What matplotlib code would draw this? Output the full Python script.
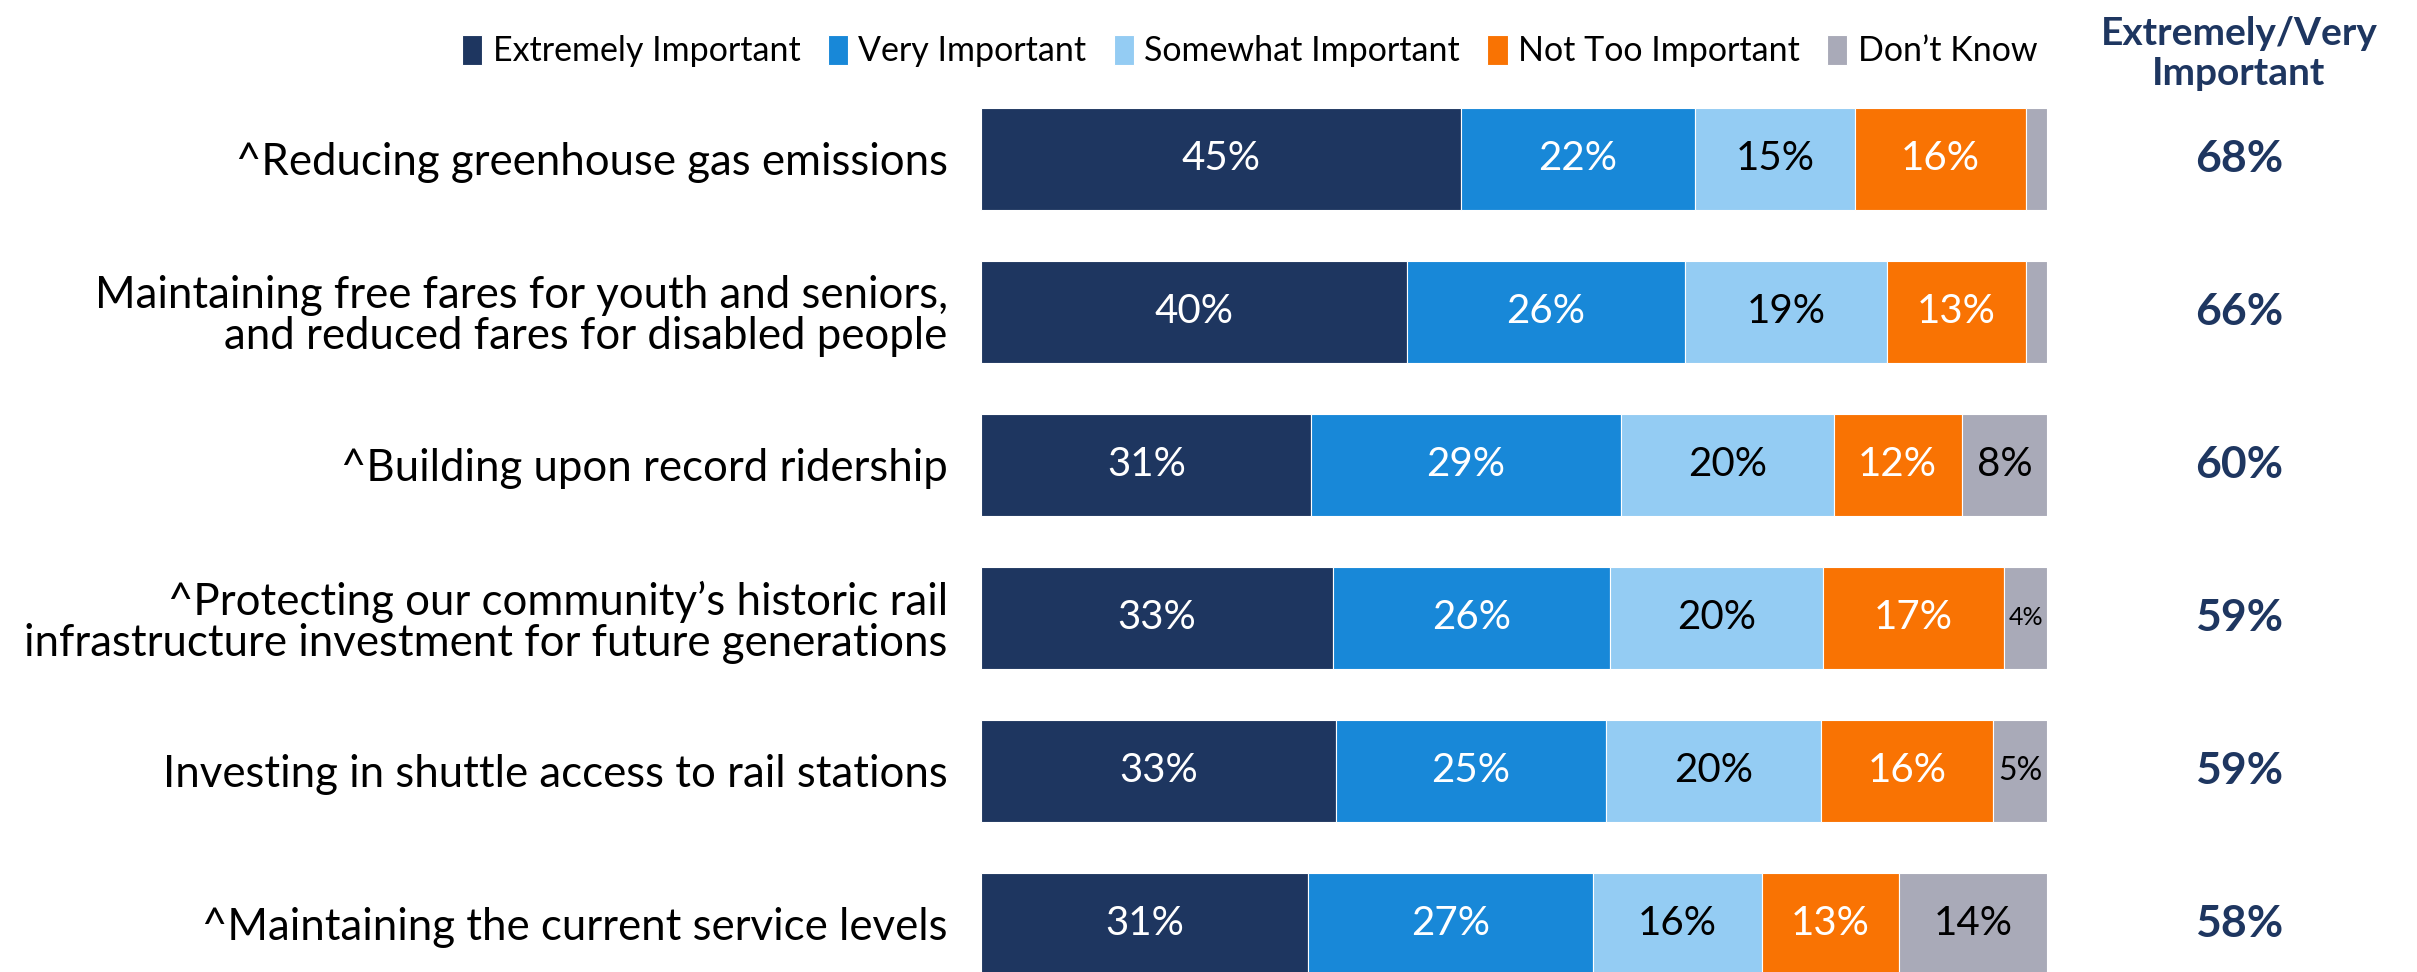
import numpy as np
import matplotlib.pyplot as plt
from matplotlib.transforms import blended_transform_factory

plt.rcParams['font.family'] = ['Lato', 'DejaVu Sans']

categories = [
    '^Reducing greenhouse gas emissions',
    'Maintaining free fares for youth and seniors,\nand reduced fares for disabled people',
    '^Building upon record ridership',
    '^Protecting our community\u2019s historic rail\ninfrastructure investment for future generations',
    'Investing in shuttle access to rail stations',
    '^Maintaining the current service levels',
]
extremely = [45, 40, 31, 33, 33, 31]
very = [22, 26, 29, 26, 25, 27]
somewhat = [15, 19, 20, 20, 20, 16]
not_too = [16, 13, 12, 17, 16, 13]
dont_know = [2, 2, 8, 4, 5, 14]
extremely_very = [68, 66, 60, 59, 59, 58]

series_names = ['Extremely Important', 'Very Important', 'Somewhat Important',
                'Not Too Important', 'Don\u2019t Know']
colors = ['#1e3660', '#1888d8', '#94ccf3', '#f97303', '#a9aab8']
text_colors = ['white', 'white', 'black', 'white', 'black']

values = np.array([extremely, very, somewhat, not_too, dont_know], dtype=float)
shares = values / values.sum(axis=0) * 100  # each bar fills the full width

fig = plt.figure(figsize=(24.17, 9.72), dpi=100)
ax = fig.add_axes([0.4059, 0.0, 0.441, 1.0])

y = np.arange(len(categories))
left = np.zeros(len(categories))
for k in range(len(series_names)):
    ax.barh(y, shares[k], left=left, height=0.667, color=colors[k],
            edgecolor='white', linewidth=0.8, label=series_names[k])
    for i in range(len(categories)):
        v = values[k, i]
        if v >= 3:
            size = 29 if v >= 8 else (23 if v >= 5 else 18)
            ax.text(left[i] + shares[k, i] / 2, y[i], f'{v:.0f}%',
                    ha='center', va='center', color=text_colors[k], fontsize=size)
    left += shares[k]

ax.set_xlim(0, 100)
ax.set_ylim(5.314, -1.039)
ax.set_yticks(y)
ax.set_yticklabels(categories, fontsize=31.5, linespacing=1.0)
ax.tick_params(axis='y', length=0, pad=24)
ax.set_xticks([])
for s in ax.spines.values():
    s.set_visible(False)

# combined extremely/very column on the right
trans = blended_transform_factory(ax.transAxes, ax.transData)
for i, v in enumerate(extremely_very):
    ax.text(1.18, y[i], f'{v}%', transform=trans, ha='center', va='center',
            fontsize=32, fontweight='bold', color='#1e3660')
ax.text(1.18, 0.945, 'Extremely/Very\nImportant', transform=ax.transAxes,
        ha='center', va='center', fontsize=28, fontweight='bold',
        color='#1e3660', linespacing=1.15)

fig.legend(loc='center', bbox_to_anchor=(0.517, 0.9475), ncol=5, frameon=False,
           fontsize=24.5, handlelength=0.6, handleheight=1.0, handletextpad=0.3,
           columnspacing=0.8)

fig.savefig('out.png', dpi=100)
